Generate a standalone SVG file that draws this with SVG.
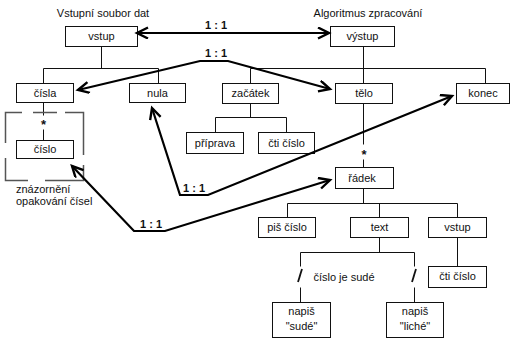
<svg xmlns="http://www.w3.org/2000/svg" width="511" height="338" viewBox="0 0 511 338">
<style>
.box{fill:#fff;stroke:#111;stroke-width:1}
.tree{fill:none;stroke:#111;stroke-width:1}
.t{font-family:"Liberation Sans",Arial,sans-serif;font-size:11px;fill:#111;text-anchor:middle}
.ts{font-family:"Liberation Sans",Arial,sans-serif;font-size:11px;fill:#111;text-anchor:start}
.lbl{font-family:"Liberation Sans",Arial,sans-serif;font-size:11px;font-weight:bold;fill:#111;text-anchor:middle}
.arr{fill:none;stroke:#000;stroke-width:2.2;stroke-linejoin:miter}
.br{fill:none;stroke:#555;stroke-width:1.5}
.sl{fill:none;stroke:#111;stroke-width:1.8}
</style>
<defs>
<marker id="ah" markerUnits="userSpaceOnUse" markerWidth="16" markerHeight="14" refX="12" refY="6" orient="auto-start-reverse" viewBox="0 0 16 14">
<path d="M1,0.5 L12,6 L1,11.5" fill="none" stroke="#000" stroke-width="2.4"/>
</marker>
</defs>
<rect width="511" height="338" fill="#fff"/>
<text class="t" x="103" y="17">Vstupní soubor dat</text>
<text class="t" x="368" y="17">Algoritmus zpracování</text>
<g id="tree-lines" transform="translate(0.5,0.5)">
<path class="tree" d="M101,46V68M43,68H158M43,68V83M158,68V83"/>
<path class="tree" d="M363,46V68M250,68H485M250,68V83M363,68V83M485,68V83"/>
<path class="tree" d="M250,103V117M215,117H286M215,117V132M286,117V132"/>
<path class="tree" d="M43,102V115M43,129V140"/>
<path class="tree" d="M363,103V144M363,159V167"/>
<path class="tree" d="M363,188V203M287,203H457M287,203V217M379,203V217M457,203V217"/>
<path class="tree" d="M379,237V252M300,252H414M300,252V266M300,287V302M414,252V266M414,287V302"/>
<path class="tree" d="M457,237V266"/>
</g>
<g id="slashes">
<path class="sl" d="M302,269L298,282"/>
<path class="sl" d="M416,269L412,282"/>
</g>
<g id="bracket">
<path class="br" d="M5.5,143V112.5H22M33,112.5H57M65,112.5H83.5V155M5.5,158V180.5H28M45,180.5H83.5V165"/>
</g>
<g id="n-vstup"><rect class="box" x="65.5" y="26.5" width="72" height="20"/><text class="t" x="101.5" y="40">vstup</text></g>
<g id="n-vystup"><rect class="box" x="330.5" y="26.5" width="64" height="20"/><text class="t" x="362.5" y="40">výstup</text></g>
<g id="n-cisla"><rect class="box" x="16.5" y="83.5" width="57" height="19"/><text class="t" x="45" y="97">čísla</text></g>
<g id="n-nula"><rect class="box" x="129.5" y="83.5" width="56" height="19"/><text class="t" x="157.5" y="97">nula</text></g>
<g id="n-zacatek"><rect class="box" x="222.5" y="83.5" width="56" height="20"/><text class="t" x="250.5" y="97">začátek</text></g>
<g id="n-telo"><rect class="box" x="335.5" y="83.5" width="57" height="20"/><text class="t" x="364" y="97">tělo</text></g>
<g id="n-konec"><rect class="box" x="456.5" y="83.5" width="53" height="20"/><text class="t" x="483" y="97">konec</text></g>
<g id="n-priprava"><rect class="box" x="186.5" y="132.5" width="57" height="21"/><text class="t" x="215" y="147">příprava</text></g>
<g id="n-cticislo1"><rect class="box" x="258.5" y="132.5" width="56" height="21"/><text class="t" x="286.5" y="147">čti číslo</text></g>
<g id="n-cislo"><rect class="box" x="16.5" y="140.5" width="57" height="18"/><text class="t" x="45" y="153">číslo</text></g>
<g id="n-radek"><rect class="box" x="335.5" y="167.5" width="58" height="21"/><text class="t" x="362" y="182">řádek</text></g>
<g id="n-piscislo"><rect class="box" x="258.5" y="217.5" width="57" height="20"/><text class="t" x="287" y="231">piš číslo</text></g>
<g id="n-text"><rect class="box" x="350.5" y="217.5" width="58" height="20"/><text class="t" x="379.5" y="231">text</text></g>
<g id="n-vstup2"><rect class="box" x="428.5" y="217.5" width="58" height="20"/><text class="t" x="457.5" y="231">vstup</text></g>
<g id="n-cticislo2"><rect class="box" x="428.5" y="266.5" width="58" height="21"/><text class="t" x="457.5" y="280">čti číslo</text></g>
<g id="n-sude"><rect class="box" x="272.5" y="302.5" width="58" height="35"/><text class="t" x="301.5" y="315">napiš</text><text class="t" x="301.5" y="330">"sudé"</text></g>
<g id="n-liche"><rect class="box" x="386.5" y="302.5" width="57" height="35"/><text class="t" x="415" y="315">napiš</text><text class="t" x="415" y="330">"liché"</text></g>
<text class="lbl" x="43.5" y="129" style="font-size:13px">*</text>
<text class="lbl" x="364" y="159" style="font-size:13px">*</text>
<text class="t" x="344" y="281">číslo je sudé</text>
<text class="ts" x="16" y="193">znázornění</text>
<text class="ts" x="16" y="205">opakování čísel</text>
<g id="connectors">
<path class="arr" d="M137,33H329" marker-start="url(#ah)" marker-end="url(#ah)"/>
<path class="arr" d="M78,90L200,61H228L330,89" marker-start="url(#ah)" marker-end="url(#ah)"/>
<path class="arr" d="M152,108L180,195H208L452,96" marker-start="url(#ah)" marker-end="url(#ah)"/>
<path class="arr" d="M72,166L134,231H165L330,180" marker-start="url(#ah)" marker-end="url(#ah)"/>
<text class="lbl" x="216" y="29">1 : 1</text>
<text class="lbl" x="216" y="57">1 : 1</text>
<text class="lbl" x="194" y="192">1 : 1</text>
<text class="lbl" x="151" y="228">1 : 1</text>
</g>
</svg>
